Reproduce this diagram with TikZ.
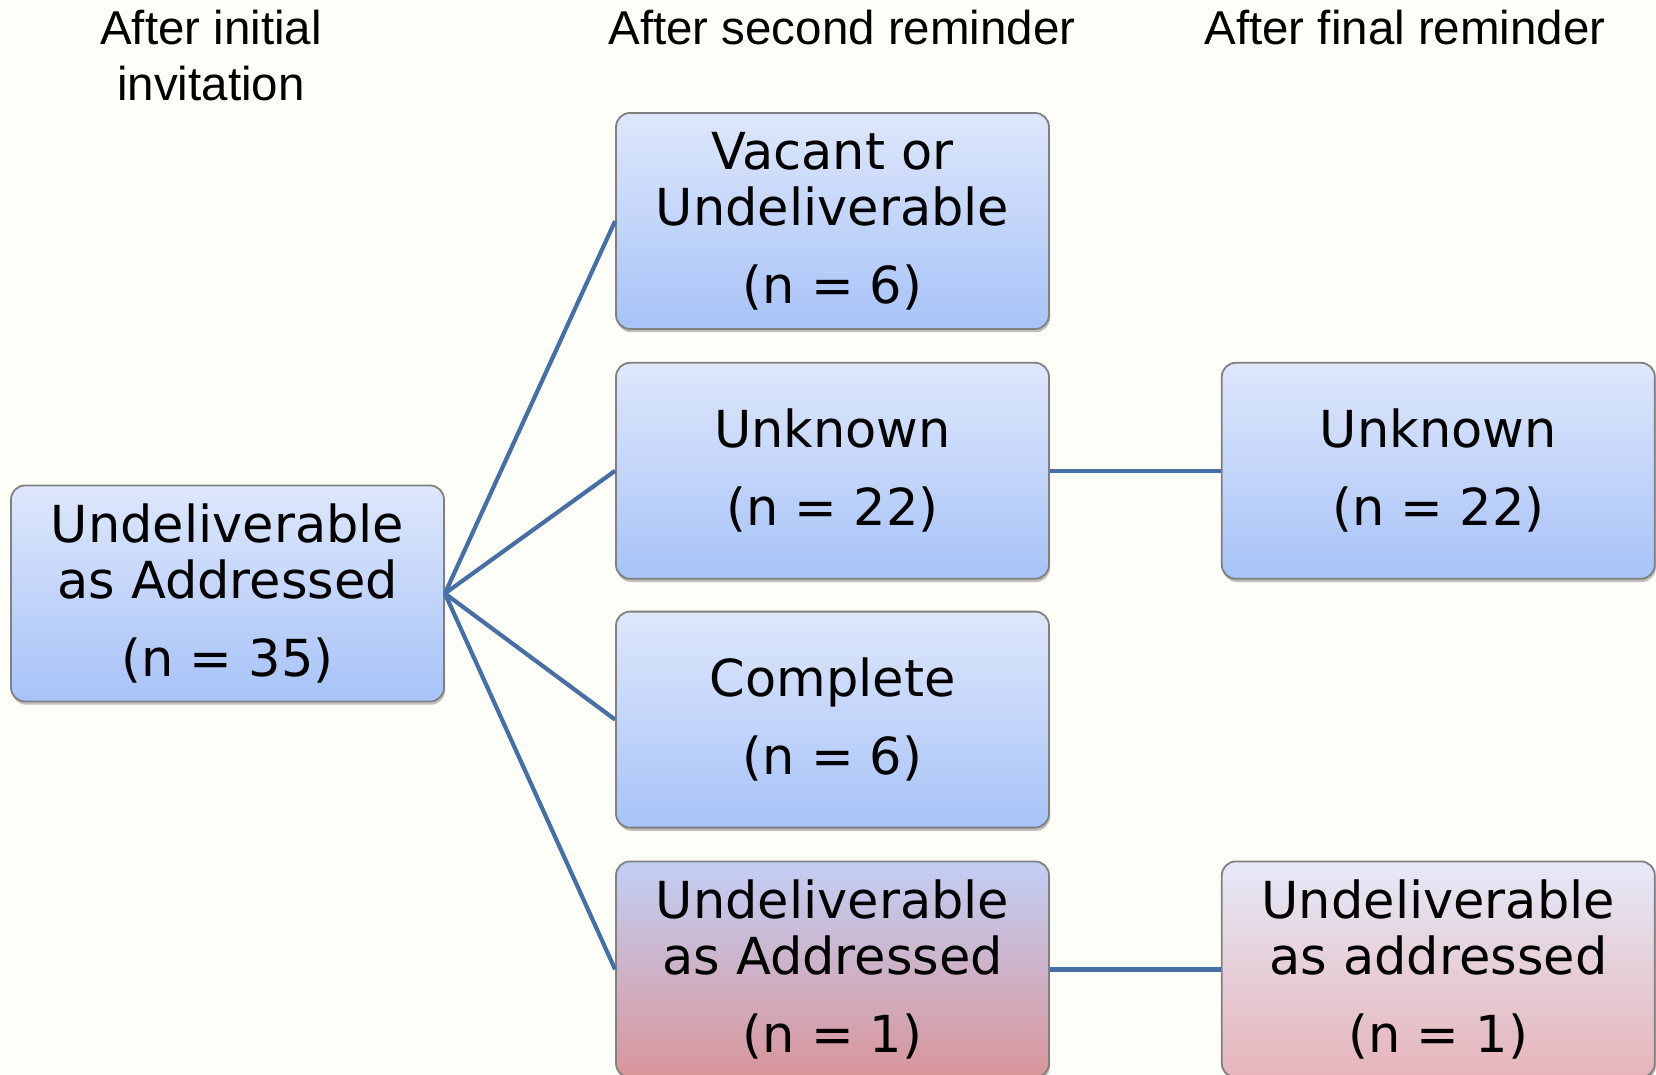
\documentclass[tikz,border=0pt]{standalone}
\usepackage{fontspec}
\setmainfont{DejaVu Sans}
\newfontfamily\headfont{Liberation Sans}
\usepackage{xcolor}
\usetikzlibrary{positioning,shadows}
\definecolor{pagebg}{HTML}{FEFEF9}
\definecolor{boxtop}{HTML}{DEE7FB}
\definecolor{boxbot}{HTML}{A7C3F8}
\definecolor{uaatop}{HTML}{C2CFF5}
\definecolor{uaabot}{HTML}{D9959A}
\definecolor{uaatoplight}{HTML}{E6E9F8}
\definecolor{uaabotlight}{HTML}{E6B5BA}
\definecolor{edgegray}{HTML}{808080}
\definecolor{linkblue}{HTML}{4670A5}

\begin{document}
\begin{tikzpicture}[
  x=0.5pt, y=-0.5pt,
  box/.style={
    draw=edgegray, rounded corners=7pt,
    minimum width=216.5pt, minimum height=108pt,
    align=center, inner sep=0pt,
    line width=0.9pt,
    top color=boxtop, bottom color=boxbot,
    font=\fontsize{25.5}{28}\selectfont,
    drop shadow={shadow xshift=0.5pt, shadow yshift=-1.6pt, opacity=0.35, fill=black!70}
  },
  uaabox/.style={box, top color=uaatop, bottom color=uaabot},
  uaalight/.style={box, top color=uaatoplight, bottom color=uaabotlight},
  head/.style={
    font=\headfont\fontsize{23.75}{28}\selectfont,
    align=center, inner sep=0pt, anchor=north
  },
  link/.style={draw=linkblue, line width=2.1pt},
]

% page background and fixed size
\fill[pagebg] (0,0) rectangle (1656,1075);
\useasboundingbox (0,0) rectangle (1656,1075);

% column headings
\node[head] (hinit) at (211,10) {After initial\\invitation};
\node[head] (hsecond) at (842,10) {After second reminder};
\node[head] (hfinal) at (1405,10) {After final reminder};

% after the first mailing
\node[box] (ua1) at (227.5,593.5) {Undeliverable\\as Addressed\\[11pt](n = 35)};

% after the second reminder, stacked downwards
\node[box] (vac) at (832.5,221) {Vacant or\\Undeliverable\\[11pt](n = 6)};
\node[box, below=16pt of vac] (unk2) {Unknown\\[11pt](n = 22)};
\node[box, below=15.5pt of unk2] (done) {Complete\\[11pt](n = 6)};
\node[uaabox, below=16pt of done] (ua2) {Undeliverable\\as Addressed\\[11pt](n = 1)};

% after the final reminder
\node[box, right=85.5pt of unk2] (unk3) {Unknown\\[11pt](n = 22)};
\node[uaalight, right=85.5pt of ua2] (ua3) {Undeliverable\\as addressed\\[11pt](n = 1)};

% fan out from the first box
\foreach \dst in {vac,unk2,done,ua2}
  \draw[link] (ua1.east) -- (\dst.west);

\draw[link] (unk2) -- (unk3);
\draw[link] (ua2) -- (ua3);

\end{tikzpicture}
\end{document}
